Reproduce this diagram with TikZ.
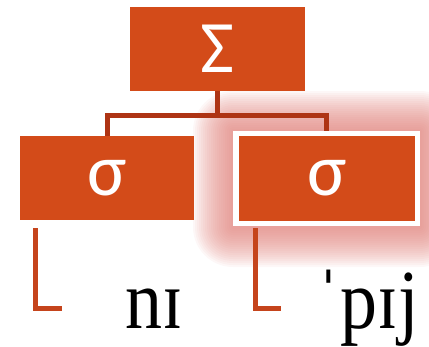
\documentclass[tikz,border=0pt]{standalone}
\usepackage{fontspec}
\setmainfont{Liberation Serif}
\newfontfamily\boxfont{Carlito}
\definecolor{boxorange}{HTML}{D34B19}
\definecolor{busred}{HTML}{AE3414}
\definecolor{stemred}{HTML}{C5441C}
\definecolor{glowred}{HTML}{DE7972}
\begin{document}
\begin{tikzpicture}[x=1pt,y=1pt,
  box/.style={fill=boxorange, inner sep=0pt, outer sep=0pt, text=white, font=\boxfont\fontsize{74}{74}\selectfont},
  selbox/.style={box, draw=white, line width=5.5pt},
  bus/.style={draw=busred, line width=5pt},
  stem/.style={draw=stemred, line width=5pt},
  word/.style={inner sep=0pt, font=\fontsize{84}{84}\selectfont, xscale=0.88},
  glow/.style={fill=glowred, fill opacity=0.06}]
\useasboundingbox (0,0) rectangle (429,-346);
% glow behind the selected syllable
\foreach \r in {40,38,...,2}
  \fill[glow, rounded corners=\r] (233-\r,-131+\r) rectangle (420+\r,-227-\r);
% nodes
\node[box, minimum width=175, minimum height=84] (top) at (217.5,-49) {Σ};
\node[box, minimum width=174, minimum height=84] (left) at (107,-178) {σ};
% tree connectors
\draw[bus] (top.south) -- ++(0,-24) coordinate (busmid);
\node[selbox, minimum width=181.5, minimum height=90] (right) at (326.75,-178.5) {σ};
\draw[bus] (left.north) |- (busmid) -| (right.north);
\node[selbox, minimum width=181.5, minimum height=90] at (right) {σ};
% stems to the words
\coordinate (lend) at (62,-308);
\coordinate (rend) at (281,-308);
\draw[stem] ([xshift=15pt,yshift=-8pt]left.south west) |- (lend);
\draw[stem] ([xshift=19pt,yshift=-4.5pt]right.south west) |- (rend);
% words
\node[word, anchor=base west] (w1) at (125,-328) {nɪ};
\node[word, anchor=base east] (w2) at (419,-328) {ˈpɪj};
\end{tikzpicture}
\end{document}
